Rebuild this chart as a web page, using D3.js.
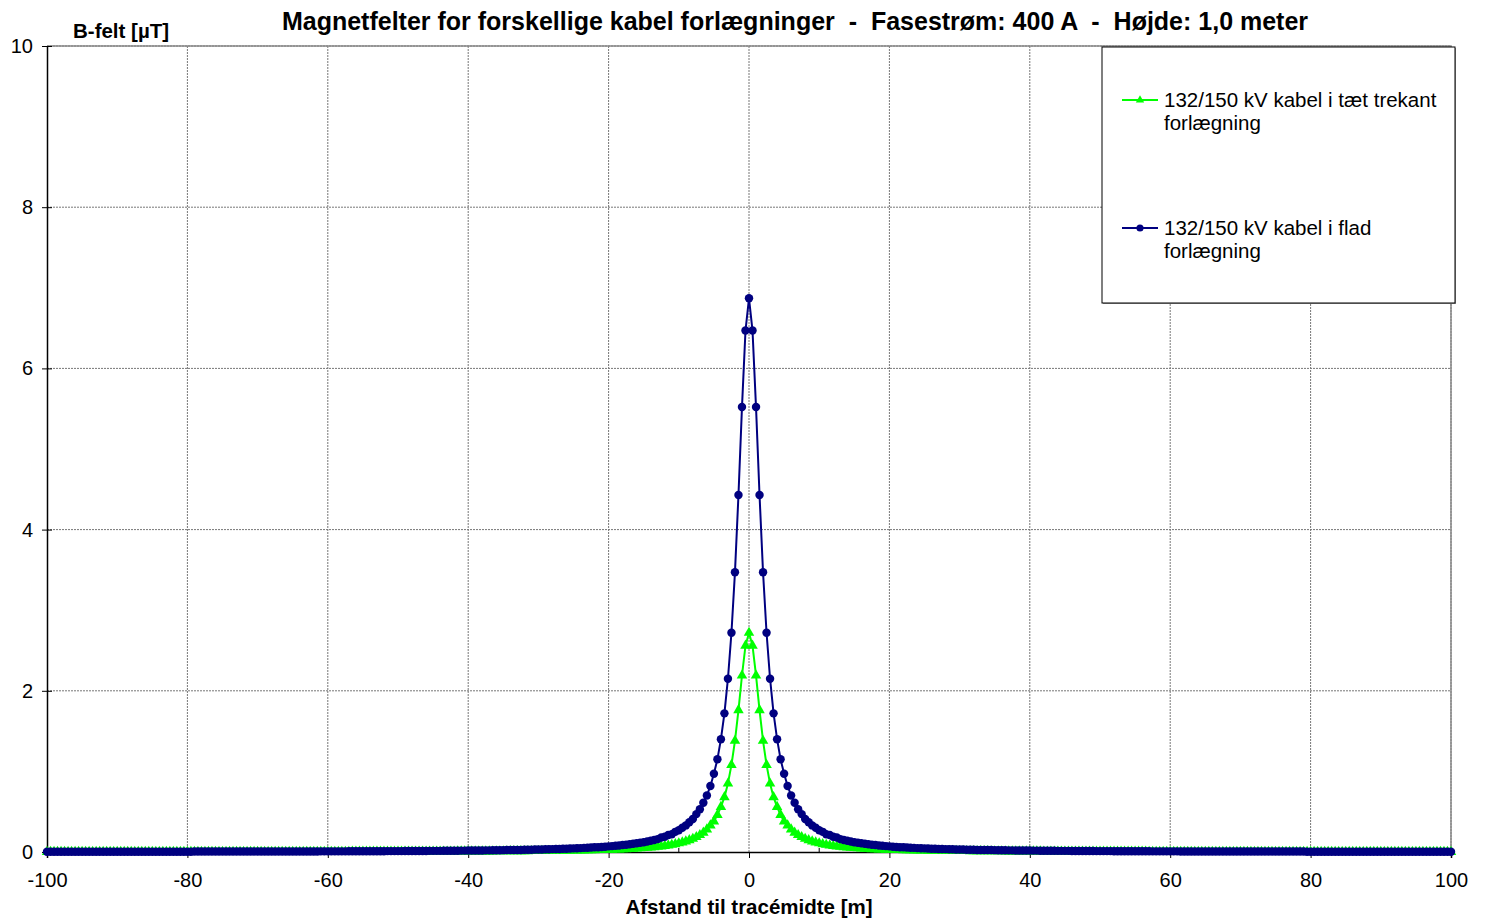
<!DOCTYPE html>
<html>
<head>
<meta charset="utf-8">
<script src="https://cdn.jsdelivr.net/npm/d3@7"></script>
<style>
  body { margin: 0; background: #fff; }
  text { font-family: Arial, "Liberation Sans", sans-serif; }
</style>
</head>
<body>
<div id="grafico"></div>
<script>
// afstand i meter, -100 .. 100 i skridt af 0.5
const afstand = d3.range(-100, 100.25, 0.5);

// 132/150 kV kabel i flad forlaegning (B-felt i uT)
const fladValues = [
  0.003, 0.003, 0.003, 0.003, 0.003, 0.003, 0.003, 0.003, 0.003, 0.003,
  0.003, 0.003, 0.003, 0.003, 0.003, 0.003, 0.003, 0.003, 0.003, 0.003,
  0.003, 0.004, 0.004, 0.004, 0.004, 0.004, 0.004, 0.004, 0.004, 0.004,
  0.004, 0.004, 0.004, 0.004, 0.004, 0.004, 0.004, 0.004, 0.004, 0.004,
  0.004, 0.004, 0.005, 0.005, 0.005, 0.005, 0.005, 0.005, 0.005, 0.005,
  0.005, 0.005, 0.005, 0.005, 0.005, 0.005, 0.005, 0.005, 0.006, 0.006,
  0.006, 0.006, 0.006, 0.006, 0.006, 0.006, 0.006, 0.006, 0.006, 0.007,
  0.007, 0.007, 0.007, 0.007, 0.007, 0.007, 0.007, 0.007, 0.008, 0.008,
  0.008, 0.008, 0.008, 0.008, 0.008, 0.008, 0.009, 0.009, 0.009, 0.009,
  0.009, 0.009, 0.010, 0.010, 0.010, 0.010, 0.010, 0.011, 0.011, 0.011,
  0.011, 0.011, 0.012, 0.012, 0.012, 0.012, 0.013, 0.013, 0.013, 0.014,
  0.014, 0.014, 0.014, 0.015, 0.015, 0.016, 0.016, 0.016, 0.017, 0.017,
  0.018, 0.018, 0.018, 0.019, 0.019, 0.020, 0.020, 0.021, 0.022, 0.022,
  0.023, 0.024, 0.024, 0.025, 0.026, 0.026, 0.027, 0.028, 0.029, 0.030,
  0.031, 0.032, 0.033, 0.034, 0.036, 0.037, 0.038, 0.040, 0.041, 0.043,
  0.045, 0.046, 0.048, 0.051, 0.053, 0.055, 0.058, 0.060, 0.063, 0.066,
  0.070, 0.073, 0.077, 0.081, 0.086, 0.091, 0.096, 0.102, 0.108, 0.115,
  0.12, 0.13, 0.14, 0.15, 0.16, 0.18, 0.19, 0.21, 0.22, 0.25,
  0.27, 0.30, 0.33, 0.37, 0.41, 0.47, 0.53, 0.61, 0.70, 0.82,
  0.97, 1.15, 1.40, 1.72, 2.15, 2.72, 3.47, 4.43, 5.52, 6.47,
  6.87,
  6.47, 5.52, 4.43, 3.47, 2.72, 2.15, 1.72, 1.40, 1.15, 0.97,
  0.82, 0.70, 0.61, 0.53, 0.47, 0.41, 0.37, 0.33, 0.30, 0.27,
  0.25, 0.22, 0.21, 0.19, 0.18, 0.16, 0.15, 0.14, 0.13, 0.12,
  0.115, 0.108, 0.102, 0.096, 0.091, 0.086, 0.081, 0.077, 0.073, 0.070,
  0.066, 0.063, 0.060, 0.058, 0.055, 0.053, 0.051, 0.048, 0.046, 0.045,
  0.043, 0.041, 0.040, 0.038, 0.037, 0.036, 0.034, 0.033, 0.032, 0.031,
  0.030, 0.029, 0.028, 0.027, 0.026, 0.026, 0.025, 0.024, 0.024, 0.023,
  0.022, 0.022, 0.021, 0.020, 0.020, 0.019, 0.019, 0.018, 0.018, 0.018,
  0.017, 0.017, 0.016, 0.016, 0.016, 0.015, 0.015, 0.014, 0.014, 0.014,
  0.014, 0.013, 0.013, 0.013, 0.012, 0.012, 0.012, 0.012, 0.011, 0.011,
  0.011, 0.011, 0.011, 0.010, 0.010, 0.010, 0.010, 0.010, 0.009, 0.009,
  0.009, 0.009, 0.009, 0.009, 0.008, 0.008, 0.008, 0.008, 0.008, 0.008,
  0.008, 0.008, 0.007, 0.007, 0.007, 0.007, 0.007, 0.007, 0.007, 0.007,
  0.007, 0.006, 0.006, 0.006, 0.006, 0.006, 0.006, 0.006, 0.006, 0.006,
  0.006, 0.006, 0.005, 0.005, 0.005, 0.005, 0.005, 0.005, 0.005, 0.005,
  0.005, 0.005, 0.005, 0.005, 0.005, 0.005, 0.005, 0.005, 0.004, 0.004,
  0.004, 0.004, 0.004, 0.004, 0.004, 0.004, 0.004, 0.004, 0.004, 0.004,
  0.004, 0.004, 0.004, 0.004, 0.004, 0.004, 0.004, 0.004, 0.004, 0.003,
  0.003, 0.003, 0.003, 0.003, 0.003, 0.003, 0.003, 0.003, 0.003, 0.003,
  0.003, 0.003, 0.003, 0.003, 0.003, 0.003, 0.003, 0.003, 0.003, 0.003
];

// 132/150 kV kabel i taet trekant forlaegning (B-felt i uT)
const trekantValues = [
  0.001, 0.001, 0.001, 0.001, 0.001, 0.001, 0.001, 0.001, 0.001, 0.001,
  0.001, 0.001, 0.001, 0.001, 0.001, 0.001, 0.001, 0.001, 0.001, 0.001,
  0.001, 0.001, 0.001, 0.001, 0.001, 0.001, 0.001, 0.001, 0.002, 0.002,
  0.002, 0.002, 0.002, 0.002, 0.002, 0.002, 0.002, 0.002, 0.002, 0.002,
  0.002, 0.002, 0.002, 0.002, 0.002, 0.002, 0.002, 0.002, 0.002, 0.002,
  0.002, 0.002, 0.002, 0.002, 0.002, 0.002, 0.002, 0.002, 0.002, 0.002,
  0.002, 0.002, 0.002, 0.002, 0.002, 0.002, 0.002, 0.003, 0.003, 0.003,
  0.003, 0.003, 0.003, 0.003, 0.003, 0.003, 0.003, 0.003, 0.003, 0.003,
  0.003, 0.003, 0.003, 0.003, 0.003, 0.003, 0.003, 0.004, 0.004, 0.004,
  0.004, 0.004, 0.004, 0.004, 0.004, 0.004, 0.004, 0.004, 0.004, 0.004,
  0.004, 0.005, 0.005, 0.005, 0.005, 0.005, 0.005, 0.005, 0.005, 0.005,
  0.006, 0.006, 0.006, 0.006, 0.006, 0.006, 0.006, 0.007, 0.007, 0.007,
  0.007, 0.007, 0.007, 0.008, 0.008, 0.008, 0.008, 0.008, 0.009, 0.009,
  0.009, 0.009, 0.010, 0.010, 0.010, 0.011, 0.011, 0.011, 0.012, 0.012,
  0.012, 0.013, 0.013, 0.014, 0.014, 0.015, 0.015, 0.016, 0.016, 0.017,
  0.018, 0.019, 0.019, 0.020, 0.021, 0.022, 0.023, 0.024, 0.025, 0.026,
  0.028, 0.029, 0.031, 0.032, 0.034, 0.036, 0.038, 0.041, 0.043, 0.046,
  0.049, 0.052, 0.056, 0.060, 0.065, 0.070, 0.076, 0.082, 0.090, 0.098,
  0.108, 0.119, 0.132, 0.147, 0.164, 0.186, 0.21, 0.24, 0.28, 0.33,
  0.38, 0.46, 0.56, 0.68, 0.85, 1.08, 1.38, 1.76, 2.19, 2.56,
  2.72,
  2.56, 2.19, 1.76, 1.38, 1.08, 0.85, 0.68, 0.56, 0.46, 0.38,
  0.33, 0.28, 0.24, 0.21, 0.186, 0.164, 0.147, 0.132, 0.119, 0.108,
  0.098, 0.090, 0.082, 0.076, 0.070, 0.065, 0.060, 0.056, 0.052, 0.049,
  0.046, 0.043, 0.041, 0.038, 0.036, 0.034, 0.032, 0.031, 0.029, 0.028,
  0.026, 0.025, 0.024, 0.023, 0.022, 0.021, 0.020, 0.019, 0.019, 0.018,
  0.017, 0.016, 0.016, 0.015, 0.015, 0.014, 0.014, 0.013, 0.013, 0.012,
  0.012, 0.012, 0.011, 0.011, 0.011, 0.010, 0.010, 0.010, 0.009, 0.009,
  0.009, 0.009, 0.008, 0.008, 0.008, 0.008, 0.008, 0.007, 0.007, 0.007,
  0.007, 0.007, 0.007, 0.006, 0.006, 0.006, 0.006, 0.006, 0.006, 0.006,
  0.005, 0.005, 0.005, 0.005, 0.005, 0.005, 0.005, 0.005, 0.005, 0.004,
  0.004, 0.004, 0.004, 0.004, 0.004, 0.004, 0.004, 0.004, 0.004, 0.004,
  0.004, 0.004, 0.004, 0.003, 0.003, 0.003, 0.003, 0.003, 0.003, 0.003,
  0.003, 0.003, 0.003, 0.003, 0.003, 0.003, 0.003, 0.003, 0.003, 0.003,
  0.003, 0.003, 0.003, 0.002, 0.002, 0.002, 0.002, 0.002, 0.002, 0.002,
  0.002, 0.002, 0.002, 0.002, 0.002, 0.002, 0.002, 0.002, 0.002, 0.002,
  0.002, 0.002, 0.002, 0.002, 0.002, 0.002, 0.002, 0.002, 0.002, 0.002,
  0.002, 0.002, 0.002, 0.002, 0.002, 0.002, 0.002, 0.002, 0.002, 0.001,
  0.001, 0.001, 0.001, 0.001, 0.001, 0.001, 0.001, 0.001, 0.001, 0.001,
  0.001, 0.001, 0.001, 0.001, 0.001, 0.001, 0.001, 0.001, 0.001, 0.001,
  0.001, 0.001, 0.001, 0.001, 0.001, 0.001, 0.001, 0.001, 0.001, 0.001
];

const xTicks = [-100, -80, -60, -40, -20, 0, 20, 40, 60, 80, 100];
const xMinorTicks = [-90, -70, -50, -30, -10, 10, 30, 50, 70, 90];
const yTicks = [0, 2, 4, 6, 8, 10];

const serier = [
  { navn: ["132/150 kV kabel i tæt trekant", "forlægning"], values: trekantValues, farve: "#00ff00", symbol: d3.symbolTriangle },
  { navn: ["132/150 kV kabel i flad", "forlægning"], values: fladValues, farve: "#000080", symbol: d3.symbolCircle },
];

const width = 1486;
const height = 919;
const margin = { top: 46, right: 35, bottom: 67, left: 47 };

const svg = d3
  .select("#grafico")
  .append("svg")
  .attr("width", width)
  .attr("height", height);

const x = d3
  .scaleLinear()
  .domain([-100, 100])
  .range([margin.left, width - margin.right]);

const y = d3
  .scaleLinear()
  .domain([0, 10])
  .range([height - margin.bottom, margin.top]);

// Gitter
svg
  .append("g")
  .selectAll("line")
  .data(xTicks.slice(1))
  .join("line")
  .attr("x1", (d) => x(d))
  .attr("x2", (d) => x(d))
  .attr("y1", y(0))
  .attr("y2", y(10))
  .attr("stroke", "#777")
  .attr("stroke-width", 1)
  .attr("stroke-dasharray", "2,1");

svg
  .append("g")
  .selectAll("line")
  .data(yTicks.slice(1))
  .join("line")
  .attr("x1", x(-100))
  .attr("x2", x(100))
  .attr("y1", (d) => y(d))
  .attr("y2", (d) => y(d))
  .attr("stroke", "#777")
  .attr("stroke-width", 1)
  .attr("stroke-dasharray", "2,1");

// Ramme (top og hoejre)
svg
  .append("path")
  .attr("d", `M${x(-100)},${y(10)}H${x(100)}V${y(0)}`)
  .attr("fill", "none")
  .attr("stroke", "#888")
  .attr("stroke-width", 1.5);

// Eje X
const xAxis = svg
  .append("g")
  .attr("transform", `translate(0,${y(0)})`)
  .call(d3.axisBottom(x).tickValues(xTicks).tickSize(6).tickPadding(15).tickFormat((d) => String(d)));
xAxis.select(".domain").attr("stroke", "#000").attr("stroke-width", 1.5);
xAxis.selectAll("text").style("font-size", "20px").attr("fill", "#000");

svg
  .append("g")
  .selectAll("line")
  .data(xMinorTicks)
  .join("line")
  .attr("x1", (d) => x(d))
  .attr("x2", (d) => x(d))
  .attr("y1", y(0))
  .attr("y2", y(0) - 4)
  .attr("stroke", "#000");

// Eje Y
const yAxis = svg
  .append("g")
  .attr("transform", `translate(${x(-100)},0)`)
  .call(d3.axisLeft(y).tickValues(yTicks).tickSizeInner(5).tickSizeOuter(0).tickPadding(9));
yAxis.select(".domain").attr("stroke", "#000").attr("stroke-width", 1.5);
yAxis.selectAll(".tick line").attr("x2", 5).attr("x1", -5);
yAxis.selectAll("text").style("font-size", "20px").attr("fill", "#000");

// Linjer og markoerer
const linje = d3
  .line()
  .x((d) => x(d[0]))
  .y((d) => y(d[1]));

serier.forEach((s) => {
  const pts = afstand.map((a, i) => [a, s.values[i]]);
  svg
    .append("path")
    .datum(pts)
    .attr("d", linje)
    .attr("fill", "none")
    .attr("stroke", s.farve)
    .attr("stroke-width", 2);

  const sym = d3.symbol().type(s.symbol).size(s.symbol === d3.symbolCircle ? 56 : 48);
  svg
    .append("g")
    .selectAll("path")
    .data(pts)
    .join("path")
    .attr("transform", (d) => `translate(${x(d[0])},${y(d[1])})`)
    .attr("d", sym)
    .attr("fill", s.farve);
});

// Titel
svg
  .append("text")
  .attr("x", 795)
  .attr("y", 30)
  .attr("text-anchor", "middle")
  .style("font-size", "25px")
  .style("font-weight", "bold")
  .style("white-space", "pre")
  .text("Magnetfelter for forskellige kabel forlægninger  -  Fasestrøm: 400 A  -  Højde: 1,0 meter");

svg
  .append("text")
  .attr("x", 73)
  .attr("y", 38)
  .style("font-size", "20.5px")
  .style("font-weight", "bold")
  .text("B-felt [µT]");

svg
  .append("text")
  .attr("x", x(0))
  .attr("y", 914)
  .attr("text-anchor", "middle")
  .style("font-size", "20.5px")
  .style("font-weight", "bold")
  .text("Afstand til tracémidte [m]");

// Leyenda
const legend = svg.append("g").attr("transform", "translate(1102,47)");
legend
  .append("rect")
  .attr("x", 1)
  .attr("y", 1)
  .attr("width", 353)
  .attr("height", 256)
  .attr("fill", "#999");
legend
  .append("rect")
  .attr("width", 353)
  .attr("height", 256)
  .attr("fill", "#fff")
  .attr("stroke", "#000")
  .attr("stroke-width", 1);

serier.forEach((s, i) => {
  const g = legend.append("g").attr("transform", `translate(0, ${53 + i * 128})`);
  g.append("line")
    .attr("x1", 20)
    .attr("x2", 56)
    .attr("stroke", s.farve)
    .attr("stroke-width", 2);
  g.append("path")
    .attr("transform", "translate(38,0)")
    .attr("d", d3.symbol().type(s.symbol).size(s.symbol === d3.symbolCircle ? 40 : 30))
    .attr("fill", s.farve);
  s.navn.forEach((t, j) => {
    g.append("text")
      .attr("x", 62)
      .attr("y", 7 + j * 23)
      .style("font-size", "20.5px")
      .attr("fill", "#000")
      .text(t);
  });
});
</script>
</body>
</html>
